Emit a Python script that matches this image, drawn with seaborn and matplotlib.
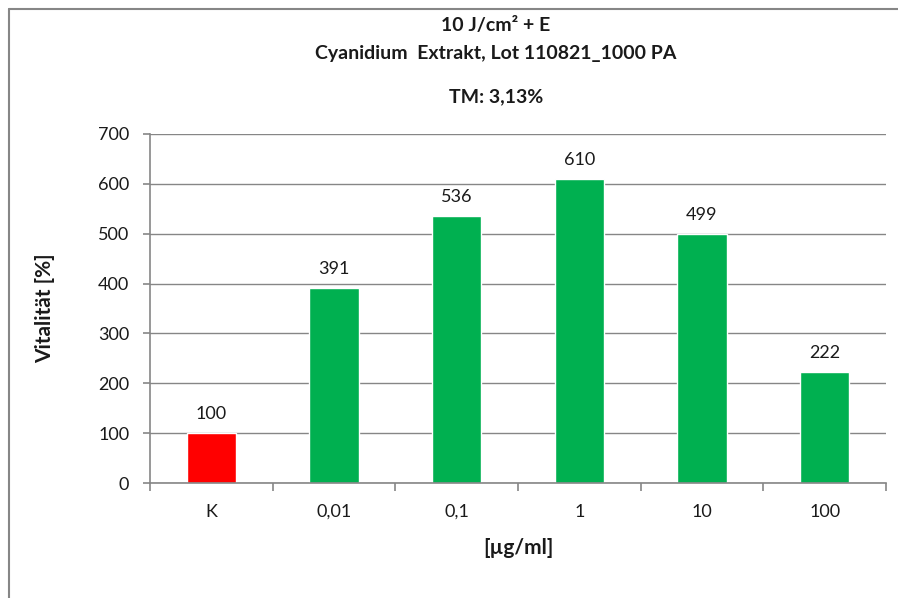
import matplotlib
matplotlib.use("Agg")
import matplotlib.pyplot as plt
from matplotlib.lines import Line2D
from matplotlib.ticker import FixedLocator, MultipleLocator
import seaborn as sns

categories = ["K", "0,01", "0,1", "1", "10", "100"]
vitality = [100, 391, 536, 610, 499, 222]
bar_colors = ["#FF0000", "#00B050", "#00B050", "#00B050", "#00B050", "#00B050"]

title_line1 = "10 J/cm² + E"
title_line2 = "Cyanidium  Extrakt, Lot 110821_1000 PA"
subtitle = "TM: 3,13%"
y_label = "Vitalität [%]"
x_label = "[µg/ml]"

sns.set_theme(style="white")
plt.rcParams["font.family"] = ["Lato", "DejaVu Sans"]

W, H = 898, 598
fig = plt.figure(figsize=(W / 100, H / 100), dpi=100)
ax = fig.add_axes([150 / W, 1 - 483 / H, (886 - 150) / W, (483 - 134) / H])

sns.barplot(x=categories, y=vitality, hue=categories, palette=bar_colors,
            legend=False, width=0.4, saturation=1, ax=ax)

grey = "#868686"
txt = "#1a1a1a"
ax.set_ylim(0, 700)
ax.set_xlim(-0.5, len(categories) - 0.5)
ax.yaxis.set_major_locator(MultipleLocator(100))
ax.grid(axis="y", color=grey, linewidth=1)
ax.set_axisbelow(True)

for side in ["top", "right"]:
    ax.spines[side].set_visible(False)
for side in ["left", "bottom"]:
    ax.spines[side].set_color(grey)
    ax.spines[side].set_linewidth(1.2)

ax.tick_params(axis="y", which="major", direction="out", length=5, color=grey,
               width=1.2, left=True, labelsize=13, labelcolor=txt, pad=10)
ax.tick_params(axis="x", which="major", length=0, labelsize=13,
               labelcolor=txt, pad=15)
ax.xaxis.set_minor_locator(FixedLocator([i - 0.5 for i in range(len(categories) + 1)]))
ax.tick_params(axis="x", which="minor", direction="out", length=6, color=grey,
               width=1.2, bottom=True)

for i, v in enumerate(vitality):
    ax.annotate(str(v), xy=(i, v), xytext=(0, 8), textcoords="offset points",
                ha="center", va="bottom", fontsize=13, color=txt)

ax.set_ylabel(y_label, fontsize=15, fontweight="bold", color=txt)
ax.yaxis.set_label_coords((45 - 150) / (886 - 150), 0.5)
ax.set_xlabel(x_label, fontsize=15, fontweight="bold", color=txt)
ax.xaxis.set_label_coords((518 - 150) / (886 - 150), -(548 - 483) / (483 - 134))
ax.xaxis.label.set_va("center")
ax.yaxis.label.set_va("center")

for text, yc in [(title_line1, 26), (title_line2, 53), (subtitle, 97)]:
    fig.text(496 / W, 1 - yc / H, text, ha="center", va="center",
             fontsize=14, fontweight="bold", color=txt)

# chart frame edges
fig.add_artist(Line2D([8.5 / W, 1], [1 - 9 / H, 1 - 9 / H], color=grey, lw=1.5))
fig.add_artist(Line2D([8.5 / W, 8.5 / W], [0, 1 - 9 / H], color=grey, lw=1.5))

fig.savefig("out.png", dpi=100)
